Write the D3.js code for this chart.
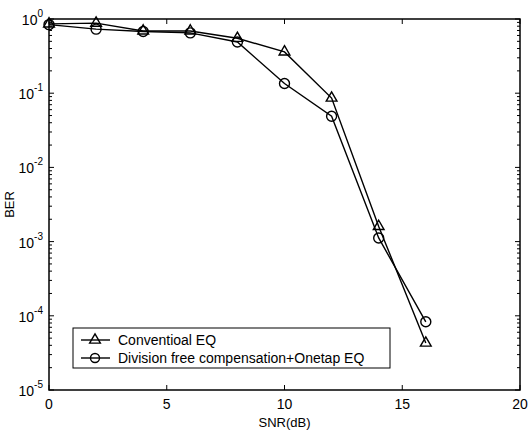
<!DOCTYPE html>
<html>
<head>
<meta charset="utf-8">
<script src="https://cdn.jsdelivr.net/npm/d3@7"></script>
<style>
  body { margin: 0; background: #fff; }
  text { font-family: "Liberation Sans", Arial, sans-serif; fill: #000; }
</style>
</head>
<body>
<div class="canvas"></div>
<script>
// data
const snr = [0, 2, 4, 6, 8, 10, 12, 14, 16];
const conventional = [0.86, 0.88, 0.69, 0.69, 0.55, 0.36, 0.086, 0.0016, 0.000043];
const divisionFree = [0.84, 0.73, 0.68, 0.65, 0.49, 0.135, 0.049, 0.00112, 0.000083];
const seriesNames = ['Conventioal EQ', 'Division free compensation+Onetap EQ'];
const xTicks = [0, 5, 10, 15, 20];
const yExps = [0, -1, -2, -3, -4, -5];

const dims = { width: 532, height: 431 };
const margin = { top: 19, right: 12, bottom: 41, left: 49 };
const w = dims.width - margin.left - margin.right;
const h = dims.height - margin.top - margin.bottom;

const svg = d3.select('.canvas')
    .append('svg')
    .attr('width', dims.width)
    .attr('height', dims.height);

const graph = svg.append('g')
    .attr('transform', `translate(${margin.left},${margin.top})`);

const x = d3.scaleLinear().domain([0, 20]).range([0, w]);
const y = d3.scaleLog().domain([1e-5, 1]).range([h, 0]);

// minor ticks for log axis
const minor = [];
for (let e = -5; e < 0; e++) {
    for (let m = 2; m <= 9; m++) minor.push(m * Math.pow(10, e));
}

const tickG = graph.append('g').attr('stroke', '#000').attr('stroke-width', 1);

// x ticks bottom + top (inward)
xTicks.forEach(t => {
    tickG.append('line').attr('x1', x(t)).attr('x2', x(t)).attr('y1', h).attr('y2', h - 5);
    tickG.append('line').attr('x1', x(t)).attr('x2', x(t)).attr('y1', 0).attr('y2', 5);
});
// y major ticks left + right
yExps.forEach(e => {
    const v = Math.pow(10, e);
    tickG.append('line').attr('x1', 0).attr('x2', 5).attr('y1', y(v)).attr('y2', y(v));
    tickG.append('line').attr('x1', w).attr('x2', w - 5).attr('y1', y(v)).attr('y2', y(v));
});
minor.forEach(v => {
    tickG.append('line').attr('x1', 0).attr('x2', 3).attr('y1', y(v)).attr('y2', y(v));
    tickG.append('line').attr('x1', w).attr('x2', w - 3).attr('y1', y(v)).attr('y2', y(v));
});

// frame
graph.append('rect')
    .attr('width', w).attr('height', h)
    .attr('fill', 'none').attr('stroke', '#000').attr('stroke-width', 1.5);

// tick labels
graph.selectAll('.xlab').data(xTicks).enter().append('text')
    .attr('x', d => x(d)).attr('y', h + 19)
    .attr('text-anchor', 'middle').attr('font-size', 14)
    .text(d => d);

const ylab = graph.selectAll('.ylab').data(yExps).enter().append('text')
    .attr('x', -6).attr('y', d => y(Math.pow(10, d)) + 6)
    .attr('text-anchor', 'end').attr('font-size', 14);
ylab.append('tspan').text('10');
ylab.append('tspan').attr('dy', -8).attr('font-size', 10).text(d => d);

// axis titles
svg.append('text')
    .attr('x', margin.left + x(10)).attr('y', 427)
    .attr('text-anchor', 'middle').attr('font-size', 13)
    .text('SNR(dB)');
svg.append('text')
    .attr('transform', `translate(14,${margin.top + h / 2}) rotate(-90)`)
    .attr('text-anchor', 'middle').attr('font-size', 13)
    .text('BER');

// lines
const line = d3.line().x(d => x(d[0])).y(d => y(d[1]));
const series = [conventional, divisionFree].map(vals => snr.map((s, i) => [s, vals[i]]));

const triPath = d3.symbol().type(d3.symbolTriangle).size(50);

series.forEach((pts, k) => {
    graph.append('path')
        .datum(pts)
        .attr('d', line)
        .attr('fill', 'none').attr('stroke', '#000').attr('stroke-width', 1.4);
    if (k === 0) {
        graph.selectAll('.tri').data(pts).enter().append('path')
            .attr('d', triPath)
            .attr('transform', d => `translate(${x(d[0])},${y(d[1])})`)
            .attr('fill', 'none').attr('stroke', '#000').attr('stroke-width', 1.4);
    } else {
        graph.selectAll('.circ').data(pts).enter().append('circle')
            .attr('cx', d => x(d[0])).attr('cy', d => y(d[1])).attr('r', 5)
            .attr('fill', 'none').attr('stroke', '#000').attr('stroke-width', 1.4);
    }
});

// legend
const leg = svg.append('g').attr('transform', 'translate(73,328)');
leg.append('rect').attr('width', 317).attr('height', 40)
    .attr('fill', '#fff').attr('stroke', '#000').attr('stroke-width', 1);
seriesNames.forEach((name, i) => {
    const ly = 12 + i * 18;
    leg.append('line').attr('x1', 8).attr('x2', 37).attr('y1', ly).attr('y2', ly)
        .attr('stroke', '#000').attr('stroke-width', 1.4);
    if (i === 0) {
        leg.append('path').attr('d', triPath).attr('transform', `translate(22,${ly})`)
            .attr('fill', 'none').attr('stroke', '#000').attr('stroke-width', 1.4);
    } else {
        leg.append('circle').attr('cx', 22).attr('cy', ly).attr('r', 4.5)
            .attr('fill', 'none').attr('stroke', '#000').attr('stroke-width', 1.4);
    }
    leg.append('text').attr('x', 45).attr('y', ly + 5).attr('font-size', 14).text(name);
});
</script>
</body>
</html>
